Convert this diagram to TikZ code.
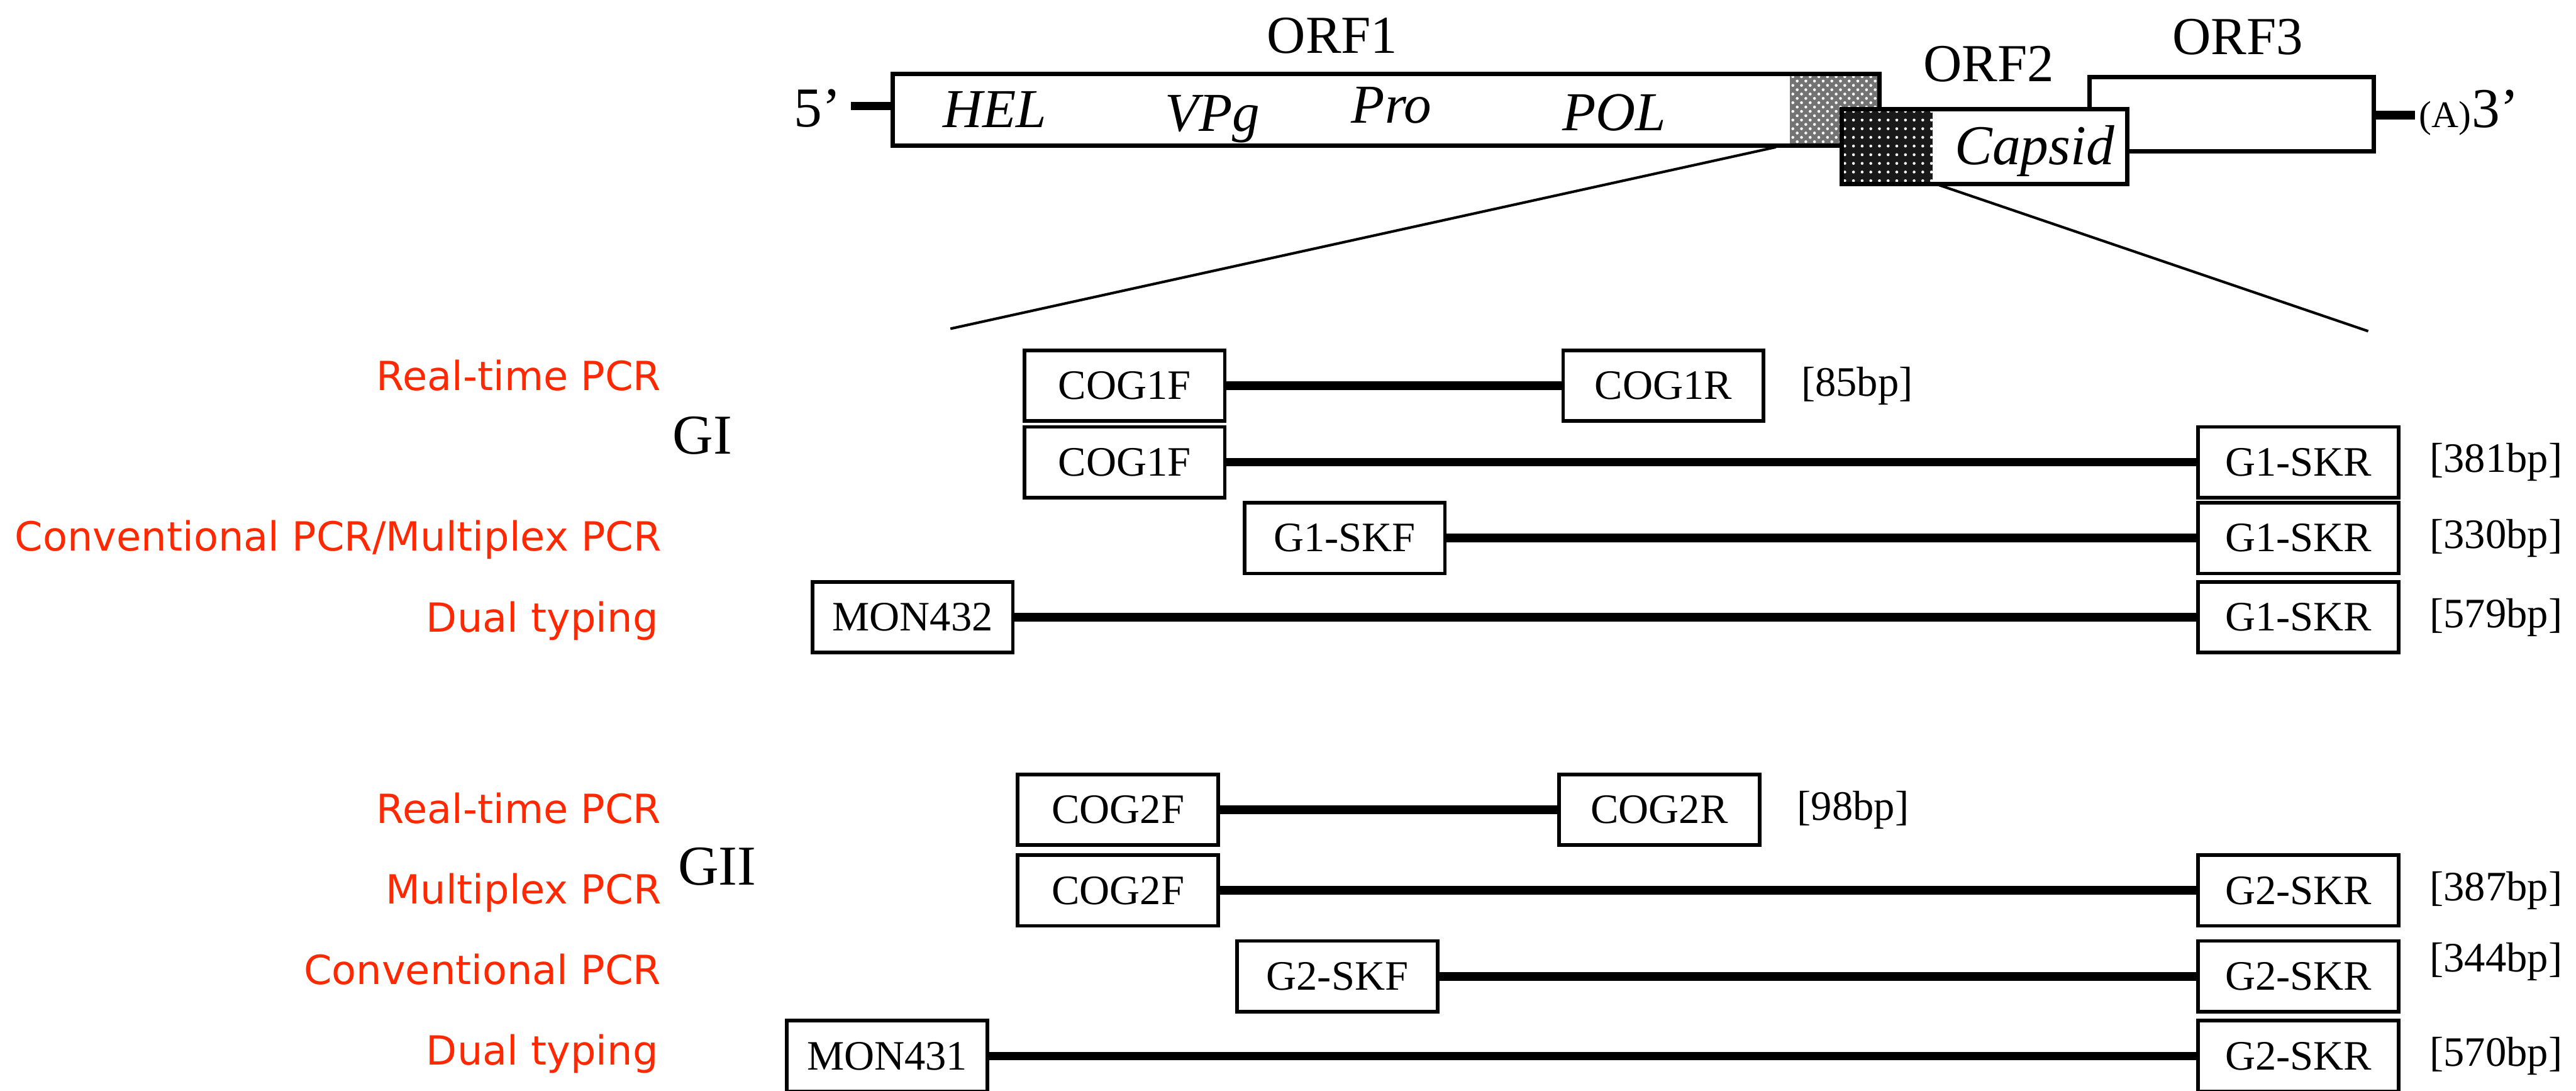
\documentclass[tikz,border=0pt]{standalone}
\usepackage{fontspec}
\setmainfont{Liberation Serif}
\newfontfamily\methodfont{DejaVu Sans}
\usetikzlibrary{positioning,patterns}
\definecolor{method}{RGB}{255,40,0}
\tikzstyle{orfbox}=[line width=1.5pt]
\tikzstyle{primer}=[draw, line width=1.25pt, minimum width=2.44cm, minimum height=0.86cm, inner sep=0pt, font=\fontsize{14.5}{16}\selectfont]
\tikzstyle{amplicon}=[line width=3pt]
\tikzstyle{bplabel}=[inner sep=0pt, font=\fontsize{14.5}{16}\selectfont]
\tikzstyle{methodlabel}=[anchor=base east, inner sep=0pt, text=method, font=\methodfont\fontsize{13.9}{16}\selectfont]
\tikzstyle{genogroup}=[anchor=base, inner sep=0pt, font=\fontsize{19.5}{22}\selectfont]
\tikzstyle{genelabel}=[anchor=base, inner sep=0pt, font=\fontsize{19}{22}\selectfont\itshape]
\tikzstyle{orflabel}=[anchor=base, inner sep=0pt, font=\fontsize{18.5}{22}\selectfont]

\begin{document}
\begin{tikzpicture}
  \useasboundingbox (0,0) rectangle (31.36,-13.27);

  %% Genome
  \draw[line width=3pt] (10.36,-1.29) -- (10.87,-1.29);
  \draw[line width=3pt] (28.90,-1.40) -- (29.40,-1.40);
  \fill[black!55] (21.79,-0.90) rectangle (22.88,-1.77);
  \fill[pattern=crosshatch dots, pattern color=white] (21.79,-0.90) rectangle (22.88,-1.77);
  \draw[orfbox] (10.87,-0.90) rectangle (22.88,-1.77);
  \draw[orfbox] (25.44,-0.94) rectangle (28.90,-1.84);
  \fill[white] (22.42,-1.33) rectangle (25.90,-2.24);
  \fill[black!90] (22.42,-1.33) rectangle (23.53,-2.24);
  \fill[pattern=dots, pattern color=white] (22.42,-1.33) rectangle (23.53,-2.24);
  \draw[orfbox] (22.42,-1.33) rectangle (25.90,-2.24);

  \draw (16.22,-0.65) node[orflabel] (ORF1) {ORF1};
  \draw (24.21,-0.99) node[orflabel] (ORF2) {ORF2};
  \draw (27.24,-0.66) node[orflabel] (ORF3) {ORF3};
  \draw (9.95,-1.54) node[genogroup] (five) {5’};
  \draw (29.77,-1.55) node[anchor=base, inner sep=0pt, font=\fontsize{13}{15}\selectfont] (polyA) {(A)};
  \draw (30.38,-1.55) node[genogroup] (three) {3’};
  \draw (12.11,-1.55) node[genelabel] (HEL) {HEL};
  \draw (14.76,-1.60) node[genelabel] (VPg) {VPg};
  \draw (16.94,-1.50) node[genelabel] (Pro) {Pro};
  \draw (19.65,-1.59) node[genelabel] (POL) {POL};
  \draw (24.77,-2.00) node[genelabel, font=\fontsize{19.5}{22}\selectfont\itshape] (Capsid) {Capsid};

  %% Zoom
  \coordinate (zoomL) at (21.62,-1.79);
  \coordinate (zoomR) at (23.60,-2.25);
  \coordinate (zoomLend) at (11.57,-4.00);
  \coordinate (zoomRend) at (28.83,-4.03);
  \draw[line width=0.9pt] (zoomL) -- (zoomLend);
  \draw[line width=0.9pt] (zoomR) -- (zoomRend);

  %% GI
  \draw (8.55,-5.52) node[genogroup] (GI) {GI};
  \draw (8.056,-4.752) node[methodlabel] (M11) {Real-time PCR};
  \draw (8.056,-6.706) node[methodlabel] (M13) {Conventional PCR/Multiplex PCR};
  \draw (8.02,-7.69) node[methodlabel] (M14) {Dual typing};

  \draw (13.69,-4.694) node[primer] (F11) {COG1F};
  \draw (20.25,-4.694) node[primer] (R11) {COG1R};
  \draw (13.69,-5.624) node[primer] (F12) {COG1F};
  \draw (27.98,-5.624) node[primer] (R12) {G1-SKR};
  \draw (16.37,-6.548) node[primer] (F13) {G1-SKF};
  \draw (27.98,-6.548) node[primer] (R13) {G1-SKR};
  \draw (11.11,-7.512) node[primer] (F14) {MON432};
  \draw (27.98,-7.512) node[primer] (R14) {G1-SKR};

  \draw[amplicon] (F11) -- (R11);
  \draw[amplicon] (F12) -- (R12);
  \draw[amplicon] (F13) -- (R13);
  \draw[amplicon] (F14) -- (R14);

  \node[bplabel, right=0.43cm of R11] (S11) {[85bp]};
  \node[bplabel, right=0.35cm of R12] (S12) {[381bp]};
  \node[bplabel, right=0.35cm of R13] (S13) {[330bp]};
  \node[bplabel, right=0.35cm of R14] (S14) {[579bp]};

  %% GII
  \draw (8.73,-10.77) node[genogroup] (GII) {GII};
  \draw (8.056,-10.02) node[methodlabel] (M21) {Real-time PCR};
  \draw (8.056,-11.00) node[methodlabel] (M22) {Multiplex PCR};
  \draw (8.056,-11.98) node[methodlabel] (M23) {Conventional PCR};
  \draw (8.02,-12.956) node[methodlabel] (M24) {Dual typing};

  \draw (13.61,-9.854) node[primer] (F21) {COG2F};
  \draw (20.20,-9.854) node[primer] (R21) {COG2R};
  \draw (13.61,-10.836) node[primer] (F22) {COG2F};
  \draw (27.98,-10.836) node[primer] (R22) {G2-SKR};
  \draw (16.28,-11.88) node[primer] (F23) {G2-SKF};
  \draw (27.98,-11.88) node[primer] (R23) {G2-SKR};
  \draw (10.80,-12.85) node[primer] (F24) {MON431};
  \draw (27.98,-12.85) node[primer] (R24) {G2-SKR};

  \draw[amplicon] (F21) -- (R21);
  \draw[amplicon] (F22) -- (R22);
  \draw[amplicon] (F23) -- (R23);
  \draw[amplicon] (F24) -- (R24);

  \node[bplabel, right=0.43cm of R21] (S21) {[98bp]};
  \node[bplabel, right=0.35cm of R22] (S22) {[387bp]};
  \node[bplabel, right=0.35cm of R23, yshift=0.18cm] (S23) {[344bp]};
  \node[bplabel, right=0.35cm of R24] (S24) {[570bp]};
\end{tikzpicture}
\end{document}
